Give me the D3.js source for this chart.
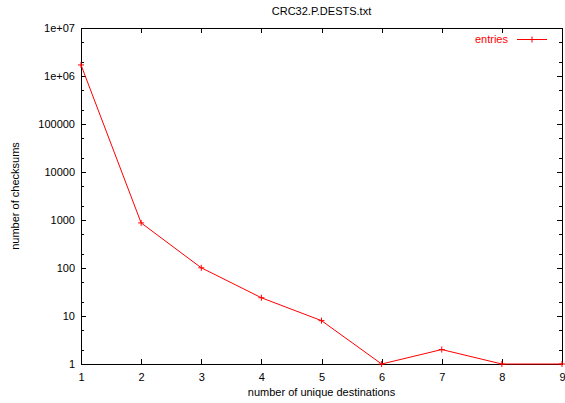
<!DOCTYPE html>
<html>
<head>
<meta charset="utf-8">
<script src="https://cdn.jsdelivr.net/npm/d3@7/dist/d3.min.js"></script>
<style>
  html, body { margin: 0; padding: 0; background: #fff; }
  svg { display: block; }
  text { font-family: "Liberation Sans", Arial, Helvetica, sans-serif; font-size: 11px; fill: #000; }
</style>
</head>
<body>
<svg id="chart" width="565" height="403"></svg>
<script>
// Number of unique destinations per checksum
const destinations = [1, 2, 3, 4, 5, 6, 7, 8, 9];
const checksums = [1700000, 870, 101, 24, 8, 1, 2, 1, 1];
const xTicks = [1, 2, 3, 4, 5, 6, 7, 8, 9];
const yTicks = [1, 10, 100, 1000, 10000, 100000, 1000000, 10000000];
const yTickLabels = ["1", "10", "100", "1000", "10000", "100000", "1e+06", "1e+07"];
const seriesName = "entries";
const chartTitle = "CRC32.P.DESTS.txt";
const xTitle = "number of unique destinations";
const yTitle = "number of checksums";

const svg = d3.select("#chart");
const margin = { left: 81, right: 3, top: 28, bottom: 39 };
const W = 565, H = 403;
const x0 = margin.left, x1 = W - margin.right;
const y0 = H - margin.bottom, y1 = margin.top;

const x = d3.scaleLinear().domain([1, 9]).range([x0, x1]);
const y = d3.scaleLog().domain([1, 1e7]).range([y0, y1]);

const red = "#ff0000";
const majorLen = 5, minorLen = 3;

// minor ticks at 2 and 5 of each decade
const minorY = [];
for (let e = 0; e < 7; e++) { minorY.push(2 * 10 ** e, 5 * 10 ** e); }

const g = svg.append("g").attr("shape-rendering", "crispEdges");

// left axis
const leftAxis = d3.axisLeft(y).tickValues(yTicks)
  .tickFormat((d, i) => yTickLabels[i]).tickSize(-majorLen).tickPadding(6);
const la = g.append("g").attr("transform", `translate(${x0},0)`).call(leftAxis);
la.select(".domain").remove();
la.selectAll("text").style("font-size", "11px").attr("font-family", null);

g.append("g").attr("transform", `translate(${x0},0)`)
  .call(d3.axisLeft(y).tickValues(minorY).tickFormat("").tickSize(-minorLen))
  .select(".domain").remove();

// right axis (mirror)
const ra = g.append("g").attr("transform", `translate(${x1},0)`)
  .call(d3.axisRight(y).tickValues(yTicks).tickFormat("").tickSize(-majorLen));
ra.select(".domain").remove();
g.append("g").attr("transform", `translate(${x1},0)`)
  .call(d3.axisRight(y).tickValues(minorY).tickFormat("").tickSize(-minorLen))
  .select(".domain").remove();

// bottom axis
const ba = g.append("g").attr("transform", `translate(0,${y0})`)
  .call(d3.axisBottom(x).tickValues(xTicks).tickFormat(d3.format("d")).tickSize(-majorLen).tickPadding(9));
ba.select(".domain").remove();
ba.selectAll("text").attr("font-family", null).style("font-size", "11px");

// top axis (mirror)
const ta = g.append("g").attr("transform", `translate(0,${y1})`)
  .call(d3.axisTop(x).tickValues(xTicks).tickFormat("").tickSize(-majorLen));
ta.select(".domain").remove();

g.selectAll(".tick line").attr("stroke", "#000");

// frame
g.append("rect").attr("x", x0).attr("y", y1)
  .attr("width", x1 - x0).attr("height", y0 - y1)
  .attr("fill", "none").attr("stroke", "#000");

// series
const line = d3.line().x((d, i) => x(destinations[i])).y(d => y(d));
svg.append("path").datum(checksums)
  .attr("d", line).attr("fill", "none").attr("stroke", red).attr("stroke-width", 1);

const cross = 3;
const pts = svg.append("g").attr("stroke", red).attr("stroke-width", 1);
checksums.forEach((v, i) => {
  const px = x(destinations[i]), py = y(v);
  pts.append("line").attr("x1", px - cross).attr("x2", px + cross).attr("y1", py).attr("y2", py);
  pts.append("line").attr("x1", px).attr("x2", px).attr("y1", py - cross).attr("y2", py + cross);
});

// legend
const lg = svg.append("g");
lg.append("text").attr("x", 508).attr("y", 43).attr("text-anchor", "end")
  .style("fill", red).text(seriesName);
lg.append("line").attr("x1", 517).attr("x2", 547).attr("y1", 39.5).attr("y2", 39.5).attr("stroke", red);
lg.append("line").attr("x1", 532 - cross).attr("x2", 532 + cross).attr("y1", 39.5).attr("y2", 39.5).attr("stroke", red);
lg.append("line").attr("x1", 532).attr("x2", 532).attr("y1", 39.5 - cross).attr("y2", 39.5 + cross).attr("stroke", red);

// titles
svg.append("text").attr("x", (x0 + x1) / 2).attr("y", 15).attr("text-anchor", "middle").text(chartTitle);
svg.append("text").attr("x", (x0 + x1) / 2).attr("y", 396).attr("text-anchor", "middle").text(xTitle);
svg.append("text").attr("transform", `translate(19,${(y0 + y1) / 2}) rotate(-90)`)
  .attr("text-anchor", "middle").text(yTitle);
</script>
</body>
</html>
